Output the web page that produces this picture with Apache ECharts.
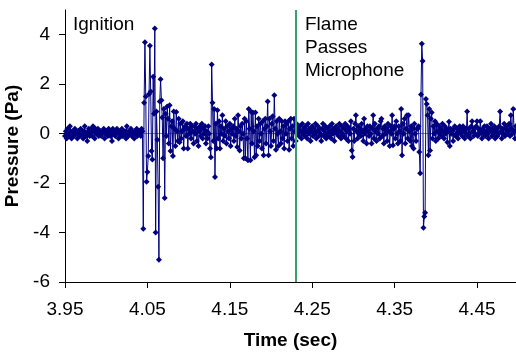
<!DOCTYPE html>
<html>
<head>
<meta charset="utf-8">
<script src="https://cdn.jsdelivr.net/npm/echarts@6/dist/echarts.min.js"></script>
<style>
html,body{margin:0;padding:0;background:#fff;}
#c{width:516px;height:354px;}
</style>
</head>
<body>
<div id="c"></div>
<script>
// sampling of the recording
const startTime = 3.95;
const sampleStep = 0.001;
// pressure (Pa), one row per 0.01 s
const pressure = [
 -0.1, 0.1,-0.2, 0.2, 0.0,-0.1, 0.3, 0.1,-0.2, 0.0,
  0.1,-0.1, 0.2, 0.0, 0.1,-0.2, 0.1, 0.0,-0.1, 0.2,
  0.0, 0.1,-0.2, 0.1, 0.3,-0.1, 0.0,-0.3, 0.1, 0.2,
 -0.1, 0.0, 0.2,-0.1, 0.3, 0.1,-0.2, 0.2, 0.0, 0.1,
  0.2,-0.1, 0.0, 0.1,-0.1, 0.0, 0.1, 0.2,-0.2, 0.1,
  0.0, 0.1,-0.1, 0.2, 0.0,-0.1, 0.1,-0.3, 0.2, 0.0,
  0.1,-0.1, 0.0, 0.2, 0.1,-0.2, 0.0, 0.1,-0.1, 0.2,
 -0.1, 0.1, 0.0, 0.1,-0.2, 0.3, 0.0,-0.1, 0.1, 0.0,
  0.2,-0.1, 0.1, 0.0,-0.2, 0.1, 0.0, 0.2,-0.1, 0.1,
  0.0, 0.1,-0.1, 0.2, 0.1,-3.85, 1.25, 3.7, 1.5,-1.95,
 -1.55,-0.9, 1.6, 3.55, 1.7,-0.7,-1.05, 2.3, 0.8, 4.25,
 -4.0, 0.9,-0.25,-2.15,-5.1, 1.3, 2.2, 1.35, 0.65,-1.0,
  1.0,-2.6, 0.8,-0.1, 1.1, 0.6,-0.4, 1.15,-0.7, 0.3,
  0.5,-0.9, 0.9, 0.2,-0.5, 0.88, 0.1,-0.3, 0.6,-0.35,
  0.4,-0.2, 0.1, 0.5,-0.6, 0.2, 0.3,-0.1, 0.4,-0.6,
  0.2, 0.0, 0.4,-0.2, 0.3, 0.1,-0.4, 0.3, 0.0, 0.4,
 -0.3, 0.2,-0.5, 0.1, 0.3,-0.1, 0.4,-0.2, 0.2, 0.0,
  0.3,-0.4, 0.1,-0.2, 0.3, 0.0,-0.6,-0.95, 2.8, 1.25,
 -0.3, 1.0,-1.75, 0.4,-0.6, 0.95,-0.2, 0.5,-0.6, 0.3,
  0.0, 0.74,-0.3, 0.2,-0.1, 0.5,-0.4, 0.3, 0.1,-0.2,
  0.4,-0.5, 0.2, 0.0, 0.3,-0.3, 0.6,-0.1, 0.2,-0.54,
  0.74, 0.1,-0.68, 0.3,-0.2, 0.4, 0.0,-1.0, 0.6,-1.0,
  0.5,-0.2,-1.08, 1.0, 0.2,-1.08, 0.88,-0.4, 0.85, 0.1,
 -0.95, 0.85,-0.87, 0.3,-0.5, 0.6,-0.3, 0.4, 0.0,-0.6,
  0.5,-0.87, 0.2, 0.6,-0.4, 0.3, 1.3,-0.87, 0.6, 0.1,
 -0.5, 0.4, 0.7,-0.3, 1.55, 0.2,-0.65, 0.5, 0.0,-0.5,
  0.6, 0.1,-0.4, 0.5,-0.2, 0.3,-0.6, 0.5, 0.0, 0.4,
 -0.3, 0.5,-0.65, 0.2, 0.6,-0.2, 0.3,-0.5, 0.6, 0.1,
 -0.3, 0.4, 0.0, 0.2,-0.1, 0.3, 0.1,-0.2, 0.4, 0.0,
  0.2,-0.1, 0.3, 0.1,-0.2, 0.4, 0.0, 0.2,-0.3, 0.1,
  0.3,-0.1, 0.2, 0.0, 0.4,-0.2, 0.1, 0.3,-0.1, 0.2,
  0.0,-0.3, 0.2, 0.4,-0.1, 0.1, 0.3,-0.2, 0.0, 0.2,
 -0.1, 0.3, 0.1,-0.2, 0.4, 0.0, 0.2,-0.3, 0.1, 0.3,
  0.0, 0.2,-0.1, 0.4, 0.1,-0.2, 0.3, 0.0,-0.1, 0.2,
  0.4,-0.2, 0.1, 0.3,-0.3, 0.2, 0.0, 0.5,-0.68,-0.94,
  0.2,-0.3, 0.4, 0.74, 0.1,-0.2, 0.3, 0.0, 0.2,-0.1,
  0.4, 0.1,-0.3, 0.6, 0.0, 0.2,-0.4, 0.3, 0.1,-0.1,
  0.3, 0.0,-0.4, 0.2, 0.74,-0.2, 0.4, 0.1,-0.3, 0.2,
  0.0, 0.3,-0.2, 0.5, 0.6,-0.1, 0.2,-0.4, 0.3, 0.0,
  0.2,-0.3, 0.4, 0.1,-0.5, 0.3, 0.0, 0.74,-0.47, 0.2,
  0.3,-0.2, 0.5, 0.0,-0.4, 0.3, 0.1,-0.3, 1.0,-0.87,
  0.4, 0.0, 0.6,-0.4, 0.2, 0.74,-0.2, 0.74, 0.1,-0.3,
  0.3,-0.5, 0.2,-0.6, 0.4, 0.0,-0.3, 0.2, 0.2, 0.3,
 -0.74,-1.6, 1.58, 3.64, 2.94,-3.81,-3.35,-3.2, 1.4, 1.2,
  0.74,-0.87, 1.0,-0.68, 0.6, 0.85,-0.2, 0.3, 0.0, 0.5,
 -0.3, 0.4, 0.1,-0.2, 0.3, 0.0, 0.2,-0.1, 0.4, 0.1,
 -0.2, 0.3, 0.0, 0.2,-0.35, 0.1, 0.48,-0.5, 0.2, 0.0,
  0.1,-0.3, 0.2, 0.3,-0.1, 0.0, 0.2,-0.2, 0.1, 0.3,
  0.0, 0.2,-0.1, 0.3, 0.1,-0.2, 0.2, 0.0, 0.9,-0.1,
  0.2, 0.0,-0.2, 0.3, 0.5, 0.1,-0.1, 0.2, 0.0, 0.3,
  0.5,-0.1, 0.2, 0.0, 0.5, 0.1,-0.2, 0.2, 0.0, 0.3,
 -0.1, 0.1, 0.3, 0.0,-0.2, 0.2, 0.1, 0.4,-0.1, 0.2,
  0.0, 0.3,-0.2, 0.1, 0.2,-0.1, 0.0, 0.3, 0.9, 0.1,
 -0.2, 0.2, 0.0, 0.4,-0.1, 0.2, 0.3, 0.0, 0.1, 0.4,
 -0.1, 0.74, 0.2, 0.0, 1.0, 0.1,-0.2, 0.3, 0.0, 0.2,
  0.1
];
const xTickLabels = [3.95, 4.05, 4.15, 4.25, 4.35, 4.45];
const yTickLabels = [-6, -4, -2, 0, 2, 4];
const flameTime = 4.233;
const xTitle = 'Time (sec)';
const yTitle = 'Pressure (Pa)';
const ignitionText = 'Ignition';
const flameText = ['Flame', 'Passes', 'Microphone'];

const FONT = 'Liberation Sans, Arial, sans-serif';
const seriesData = pressure.map((v, i) => [+(startTime + i * sampleStep).toFixed(3), v]);

const chart = echarts.init(document.getElementById('c'), null, {renderer: 'canvas'});
chart.setOption({
  animation: false,
  backgroundColor: '#fff',
  grid: {left: 65, top: 10, right: 0, bottom: 72, containLabel: false, outerBoundsMode: 'none'},
  xAxis: [{
    type: 'value', min: 3.95, max: 4.4973,
    name: xTitle, nameLocation: 'middle', nameGap: 49,
    nameTextStyle: {fontFamily: FONT, fontSize: 19, fontWeight: 'bold', color: '#000'},
    axisLine: {show: true, onZero: false, lineStyle: {color: '#000', width: 1}},
    axisTick: {show: true, length: 6, lineStyle: {color: '#000'}, customValues: xTickLabels},
    axisLabel: {show: true, margin: 18, fontFamily: FONT, fontSize: 19, color: '#000',
      customValues: xTickLabels, formatter: v => (+v).toFixed(2)},
    splitLine: {show: false}
  }, {
    type: 'value', position: 'top', min: 3.95, max: 4.4973,
    axisLine: {show: true, lineStyle: {color: '#888', width: 1}},
    axisTick: {show: false}, axisLabel: {show: false}, splitLine: {show: false}
  }],
  yAxis: {
    type: 'value', min: -6, max: 5,
    name: yTitle, nameLocation: 'middle', nameGap: 41,
    nameTextStyle: {fontFamily: FONT, fontSize: 19, fontWeight: 'bold', color: '#000'},
    axisLine: {show: true, onZero: false, lineStyle: {color: '#000', width: 1}},
    axisTick: {show: true, length: 6, lineStyle: {color: '#000'}, customValues: yTickLabels},
    axisLabel: {show: true, margin: 15, fontFamily: FONT, fontSize: 19, color: '#000',
      customValues: yTickLabels},
    splitLine: {show: false}
  },
  series: [{
    type: 'line',
    data: seriesData,
    symbol: 'diamond', symbolSize: 6, showSymbol: true,
    lineStyle: {color: '#000080', width: 1},
    itemStyle: {color: '#000080'},
    silent: true,
    markLine: {
      silent: true, symbol: 'none', label: {show: false},
      lineStyle: {color: '#3a9e6c', width: 2, type: 'solid'},
      data: [{xAxis: flameTime}]
    }
  }],
  graphic: [
    {type: 'text', left: 73, top: 15, style: {text: ignitionText, font: '19px ' + FONT, fill: '#000'}},
    {type: 'text', left: 305, top: 13, style: {text: flameText.join('\n'), font: '19px ' + FONT, lineHeight: 23.3, fill: '#000'}}
  ]
});
</script>
</body>
</html>
